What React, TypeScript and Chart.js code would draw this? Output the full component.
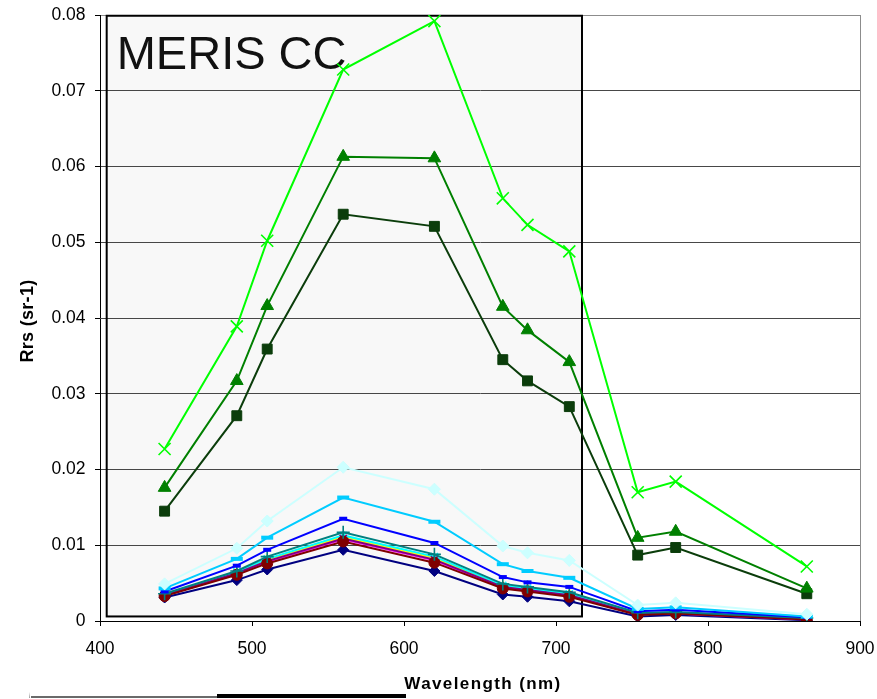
import React, { useEffect, useRef } from "react";
import { Chart, registerables } from "chart.js";

Chart.register(...registerables);

const FONT = "'Liberation Sans', Arial, sans-serif";

// MERIS band centres (nm)
const wavelengths = [442.5, 490, 510, 560, 620, 665, 681.25, 708.75, 753.75, 778.75, 865];

// Remote-sensing reflectance spectra, Rrs (sr-1)
const rrsLime = [0.0227, 0.0389, 0.0502, 0.0728, 0.0792, 0.0558, 0.0523, 0.0488, 0.0170, 0.0184, 0.0072];
const rrsGreen = [0.0176, 0.0317, 0.0416, 0.0613, 0.0611, 0.0415, 0.0384, 0.0342, 0.0110, 0.0118, 0.0043];
const rrsDarkGreen = [0.0145, 0.0271, 0.0359, 0.0537, 0.0521, 0.0345, 0.0317, 0.0283, 0.0087, 0.0097, 0.0036];
const rrsPaleCyan = [0.0049, 0.0096, 0.0132, 0.0203, 0.0174, 0.0099, 0.0090, 0.0080, 0.0021, 0.0024, 0.0009];
const rrsSkyBlue = [0.0043, 0.0082, 0.0110, 0.0163, 0.0131, 0.0075, 0.0066, 0.0057, 0.0016, 0.0018, 0.0006];
const rrsBlue = [0.0039, 0.0073, 0.0094, 0.0135, 0.0103, 0.0058, 0.0051, 0.0045, 0.0013, 0.0015, 0.0005];
const rrsTeal = [0.0036, 0.0066, 0.0085, 0.0117, 0.0088, 0.0049, 0.0045, 0.0038, 0.0011, 0.0012, 0.0004];
const rrsMaroon = [0.0033, 0.0061, 0.0076, 0.0105, 0.0077, 0.0043, 0.0039, 0.0032, 0.0008, 0.0010, 0.0002];
const rrsPurple = [0.0034, 0.0063, 0.0079, 0.0109, 0.0081, 0.0045, 0.0041, 0.0034, 0.0009, 0.0010, 0.0003];
const rrsCyan = [0.0035, 0.0065, 0.0082, 0.0113, 0.0085, 0.0047, 0.0043, 0.0036, 0.0010, 0.0011, 0.0003];
const rrsYellow = [0.0035, 0.0064, 0.0081, 0.0111, 0.0083, 0.0046, 0.0042, 0.0035, 0.0010, 0.0011, 0.0003];
const rrsMagenta = [0.0034, 0.0062, 0.0078, 0.0108, 0.0080, 0.0044, 0.0040, 0.0034, 0.0009, 0.0010, 0.0002];
const rrsNavy = [0.0031, 0.0054, 0.0068, 0.0094, 0.0066, 0.0035, 0.0032, 0.0026, 0.0006, 0.0008, 0.0001];

const xTicks = [400, 500, 600, 700, 800, 900];
const yTicks = [0, 0.01, 0.02, 0.03, 0.04, 0.05, 0.06, 0.07, 0.08];

const X_TITLE = "Wavelength (nm)";
const Y_TITLE = "Rrs (sr-1)";
const PANEL_LABEL = "MERIS CC";

// shaded panel behind the visible-band part of the spectra (data units)
const PANEL = { x0: 404.4, x1: 717.1, y0: 0.0006, y1: 0.0799 };

type SeriesDef = {
  values: number[];
  color: string;
  style: string;
  radius: number;
  markerWidth?: number;
};

// first entry is drawn on top
const series: SeriesDef[] = [
  { values: rrsLime, color: "#00ff00", style: "crossRot", radius: 8.5, markerWidth: 1.6 },
  { values: rrsGreen, color: "#008000", style: "triangle", radius: 7.3 },
  { values: rrsDarkGreen, color: "#0b3d0b", style: "rect", radius: 7 },
  { values: rrsPaleCyan, color: "#ccffff", style: "rectRot", radius: 6 },
  { values: rrsSkyBlue, color: "#00ccff", style: "line", radius: 6, markerWidth: 4 },
  { values: rrsBlue, color: "#0000ff", style: "line", radius: 4, markerWidth: 4 },
  { values: rrsTeal, color: "#008080", style: "cross", radius: 6.5, markerWidth: 1.6 },
  { values: rrsMaroon, color: "#800000", style: "circle", radius: 5.5 },
  { values: rrsPurple, color: "#800080", style: "star", radius: 5, markerWidth: 1.5 },
  { values: rrsCyan, color: "#00ffff", style: "crossRot", radius: 5, markerWidth: 1.5 },
  { values: rrsYellow, color: "#ffff00", style: "triangle", radius: 5 },
  { values: rrsMagenta, color: "#ff00ff", style: "rect", radius: 5 },
  { values: rrsNavy, color: "#000080", style: "rectRot", radius: 5.5 },
];

const panelPlugin = {
  id: "panel",
  beforeDraw(chart: any) {
    const { ctx, scales } = chart;
    const x0 = scales.x.getPixelForValue(PANEL.x0);
    const x1 = scales.x.getPixelForValue(PANEL.x1);
    const y0 = scales.y.getPixelForValue(PANEL.y0);
    const y1 = scales.y.getPixelForValue(PANEL.y1);
    ctx.save();
    ctx.fillStyle = "#f8f8f8";
    ctx.fillRect(x0, y1, x1 - x0, y0 - y1);
    ctx.restore();
  },
  beforeDatasetsDraw(chart: any) {
    const { ctx, scales, chartArea } = chart;
    const x0 = scales.x.getPixelForValue(PANEL.x0);
    const x1 = scales.x.getPixelForValue(PANEL.x1);
    const y0 = scales.y.getPixelForValue(PANEL.y0);
    const y1 = scales.y.getPixelForValue(PANEL.y1);
    ctx.save();
    // right edge of the plot area
    ctx.strokeStyle = "#8c8c8c";
    ctx.lineWidth = 1;
    ctx.beginPath();
    ctx.moveTo(Math.round(chartArea.right) + 0.5, chartArea.top);
    ctx.lineTo(Math.round(chartArea.right) + 0.5, chartArea.bottom);
    ctx.stroke();
    // panel frame and label
    ctx.strokeStyle = "#000";
    ctx.lineWidth = 2;
    ctx.strokeRect(x0, y1, x1 - x0, y0 - y1);
    ctx.fillStyle = "#111";
    ctx.font = `47px ${FONT}`;
    ctx.textAlign = "left";
    ctx.textBaseline = "alphabetic";
    ctx.fillText(PANEL_LABEL, x0 + 10, y1 + 53);
    ctx.restore();
  },
};

const titlesPlugin = {
  id: "axisTitles",
  afterDraw(chart: any) {
    const { ctx, chartArea, height } = chart;
    ctx.save();
    ctx.fillStyle = "#000";
    ctx.textBaseline = "alphabetic";
    ctx.textAlign = "center";
    ctx.font = `bold 17px ${FONT}`;
    (ctx as any).letterSpacing = "1.4px";
    ctx.fillText(X_TITLE, (chartArea.left + chartArea.right) / 2 + 3, height - 10.5);
    (ctx as any).letterSpacing = "0.3px";
    ctx.font = `bold 18px ${FONT}`;
    ctx.translate(32.5, (chartArea.top + chartArea.bottom) / 2 + 3);
    ctx.rotate(-Math.PI / 2);
    ctx.fillText(Y_TITLE, 0, 0);
    ctx.restore();
  },
};

export default function App() {
  const canvasRef = useRef<HTMLCanvasElement | null>(null);

  useEffect(() => {
    const canvas = canvasRef.current;
    if (!canvas) return;

    const datasets = series.map((s) => ({
      data: wavelengths.map((w, i) => ({ x: w, y: s.values[i] })),
      borderColor: s.color,
      backgroundColor: s.color,
      borderWidth: 2,
      pointStyle: s.style,
      pointRadius: s.radius,
      pointHoverRadius: s.radius,
      pointBorderWidth: s.markerWidth ?? 1,
      pointBorderColor: s.color,
      pointBackgroundColor: s.color,
      tension: 0,
      fill: false,
    }));

    const chart = new Chart(canvas, {
      type: "line",
      data: { datasets } as any,
      plugins: [panelPlugin, titlesPlugin],
      options: {
        animation: false,
        responsive: true,
        maintainAspectRatio: false,
        events: [],
        layout: { padding: { top: 15, right: 17, left: 0, bottom: 0 } },
        plugins: {
          legend: { display: false },
          tooltip: { enabled: false },
        },
        scales: {
          x: {
            type: "linear",
            min: xTicks[0],
            max: xTicks[xTicks.length - 1],
            afterFit: (s: any) => {
              s.height = 78;
              s.paddingLeft = 0;
              s.paddingRight = 0;
            },
            afterBuildTicks: (s: any) => {
              s.ticks = xTicks.map((v) => ({ value: v }));
            },
            ticks: {
              color: "#000",
              padding: 13,
              maxRotation: 0,
              font: { family: FONT, size: 17.5 },
              callback: (v: any) => String(v),
            },
            grid: {
              drawOnChartArea: false,
              drawTicks: true,
              tickLength: 5,
              tickColor: "#000",
              color: "#000",
            },
            border: { color: "#000", width: 1 },
          },
          y: {
            type: "linear",
            min: yTicks[0],
            max: yTicks[yTicks.length - 1],
            afterFit: (s: any) => {
              s.width = 100;
              s.paddingTop = 0;
              s.paddingBottom = 0;
            },
            afterBuildTicks: (s: any) => {
              s.ticks = yTicks.map((v) => ({ value: v }));
            },
            ticks: {
              color: "#000",
              padding: 9.5,
              font: { family: FONT, size: 17.5 },
              callback: (v: any) => (v === 0 ? "0" : Number(v).toFixed(2)),
            },
            grid: {
              color: (c: any) =>
                c.tick && c.tick.value >= yTicks[yTicks.length - 1] ? "#8c8c8c" : "#474747",
              lineWidth: 1,
              tickLength: 5,
              tickColor: "#000",
            },
            border: { color: "#000", width: 1 },
          },
        },
      } as any,
    });

    return () => chart.destroy();
  }, []);

  return (
    <div
      style={{
        position: "fixed",
        left: 0,
        top: 0,
        width: 877,
        height: 699,
        background: "#fff",
        overflow: "hidden",
      }}
    >
      <canvas ref={canvasRef} />
      {/* drawing-toolbar strip along the bottom edge */}
      <div
        style={{
          position: "absolute",
          left: 29,
          top: 692,
          width: 0,
          height: 0,
          borderLeft: "1px solid #9a9a9a",
          borderTop: "6px solid transparent",
        }}
      />
      <div
        style={{
          position: "absolute",
          left: 31,
          top: 696,
          width: 187,
          height: 2,
          background: "#6a6a6a",
        }}
      />
      <div
        style={{
          position: "absolute",
          left: 217,
          top: 694,
          width: 189,
          height: 4,
          background: "#000",
        }}
      />
    </div>
  );
}
